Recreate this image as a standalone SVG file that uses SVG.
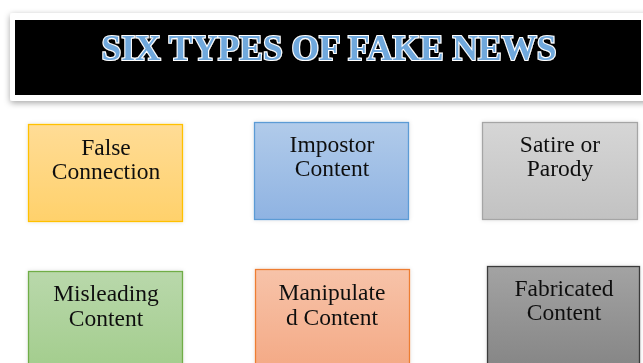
<svg xmlns="http://www.w3.org/2000/svg" width="643" height="363" viewBox="0 0 643 363">
  <style>
    .label { font-family: "Liberation Serif", "Times New Roman", serif; font-size: 23.5px; fill: #111; text-anchor: middle; }
    .title { font-family: "Liberation Serif", "Times New Roman", serif; font-weight: bold; font-size: 36px; fill: #6fa8dc; stroke: #ffffff; stroke-width: 2.2; paint-order: stroke; text-anchor: middle; }
    .box { stroke-width: 1.3; }
  </style>
  <defs>
    <filter id="shadow" x="-5%" y="-20%" width="110%" height="150%">
      <feDropShadow dx="0" dy="2" stdDeviation="3" flood-color="#000" flood-opacity="0.35"/>
    </filter>
    <filter id="soft" x="-5%" y="-10%" width="110%" height="120%">
      <feDropShadow dx="0" dy="0" stdDeviation="2" flood-color="#000" flood-opacity="0.12"/>
    </filter>
    <filter id="textShadow" x="-5%" y="-20%" width="110%" height="150%">
      <feDropShadow dx="1" dy="1.5" stdDeviation="0.8" flood-color="#000" flood-opacity="0.8"/>
    </filter>
    <linearGradient id="gOrange" x1="0" y1="0" x2="0" y2="1">
      <stop offset="0" stop-color="#ffdc96"/>
      <stop offset="1" stop-color="#ffd16b"/>
    </linearGradient>
    <linearGradient id="gBlue" x1="0" y1="0" x2="0" y2="1">
      <stop offset="0" stop-color="#b1cbea"/>
      <stop offset="1" stop-color="#8fb3e2"/>
    </linearGradient>
    <linearGradient id="gGray" x1="0" y1="0" x2="0" y2="1">
      <stop offset="0" stop-color="#d6d6d6"/>
      <stop offset="1" stop-color="#c2c2c2"/>
    </linearGradient>
    <linearGradient id="gGreen" x1="0" y1="0" x2="0" y2="1">
      <stop offset="0" stop-color="#b9d8ab"/>
      <stop offset="1" stop-color="#a3cd8d"/>
    </linearGradient>
    <linearGradient id="gSalmon" x1="0" y1="0" x2="0" y2="1">
      <stop offset="0" stop-color="#f7c3a9"/>
      <stop offset="1" stop-color="#f4aa86"/>
    </linearGradient>
    <linearGradient id="gDark" x1="0" y1="0" x2="0" y2="1">
      <stop offset="0" stop-color="#a3a3a3"/>
      <stop offset="1" stop-color="#868686"/>
    </linearGradient>
  </defs>

  <rect width="643" height="363" fill="#ffffff"/>

  <!-- title banner -->
  <g id="title">
    <rect x="10" y="13" width="640" height="88" rx="3" fill="#ffffff" filter="url(#shadow)"/>
    <rect x="15" y="20" width="626" height="75" fill="#000000"/>
    <text class="title" x="329" y="60" textLength="455" lengthAdjust="spacingAndGlyphs" filter="url(#textShadow)">SIX TYPES OF FAKE NEWS</text>
  </g>

  <!-- top row -->
  <g id="false-connection" filter="url(#soft)">
    <rect class="box" x="28.5" y="124.5" width="154" height="97" fill="url(#gOrange)" stroke="#ffc000"/>
    <text class="label" x="106" y="155">False</text>
    <text class="label" x="106" y="179">Connection</text>
  </g>
  <g id="impostor-content" filter="url(#soft)">
    <rect class="box" x="254.5" y="122.5" width="154" height="97" fill="url(#gBlue)" stroke="#5b9bd5"/>
    <text class="label" x="332" y="152">Impostor</text>
    <text class="label" x="332" y="176">Content</text>
  </g>
  <g id="satire-parody" filter="url(#soft)">
    <rect class="box" x="482.5" y="122.5" width="155" height="97" fill="url(#gGray)" stroke="#a5a5a5"/>
    <text class="label" x="560" y="152">Satire or</text>
    <text class="label" x="560" y="176">Parody</text>
  </g>

  <!-- bottom row -->
  <g id="misleading-content" filter="url(#soft)">
    <rect class="box" x="28.5" y="271.5" width="154" height="97" fill="url(#gGreen)" stroke="#70ad47"/>
    <text class="label" x="106" y="301">Misleading</text>
    <text class="label" x="106" y="326">Content</text>
  </g>
  <g id="manipulated-content" filter="url(#soft)">
    <rect class="box" x="255.5" y="269.5" width="154" height="97" fill="url(#gSalmon)" stroke="#ed7d31"/>
    <text class="label" x="332" y="300">Manipulate</text>
    <text class="label" x="332" y="325">d Content</text>
  </g>
  <g id="fabricated-content" filter="url(#soft)">
    <rect class="box" x="487.5" y="266.5" width="152" height="100" fill="url(#gDark)" stroke="#3a3a3a"/>
    <text class="label" x="564" y="296">Fabricated</text>
    <text class="label" x="564" y="320">Content</text>
  </g>

  <g id="connectors"/>
</svg>
